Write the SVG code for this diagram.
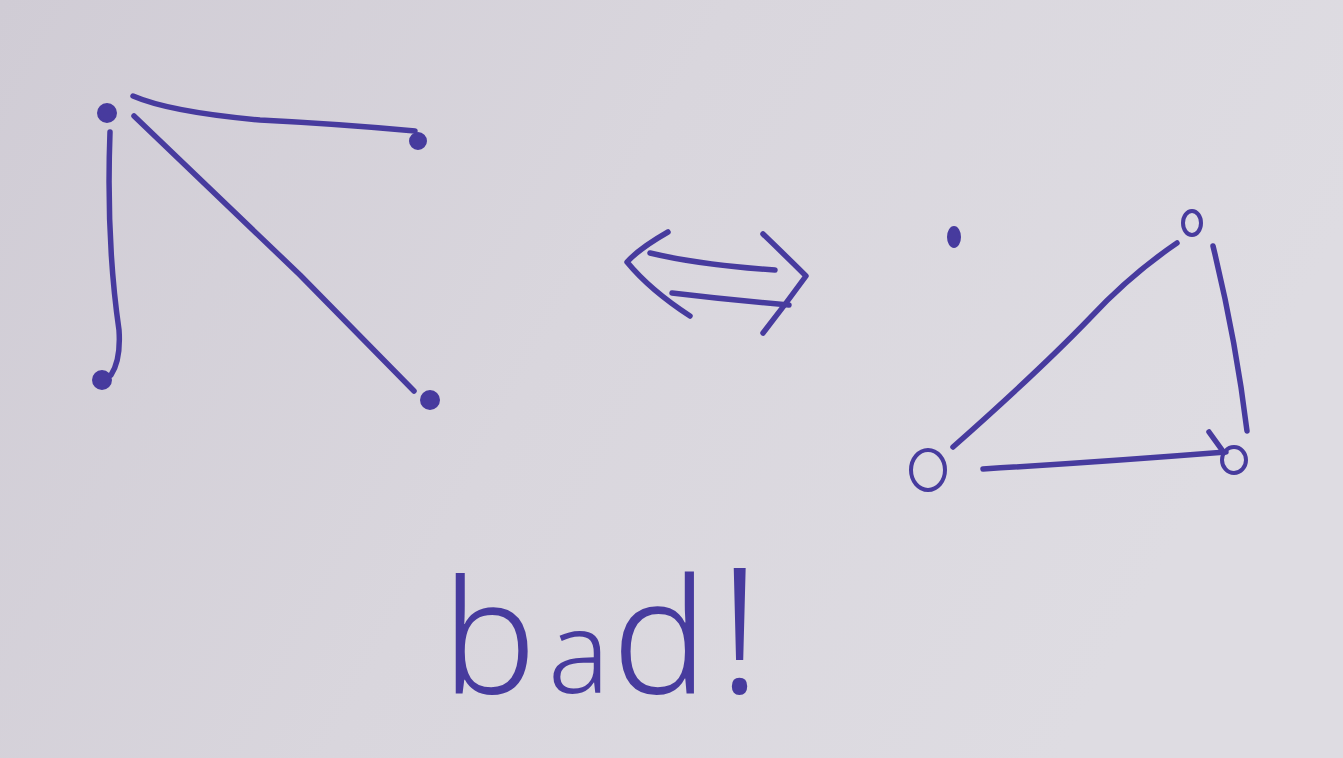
<svg xmlns="http://www.w3.org/2000/svg" width="1343" height="758" viewBox="0 0 1343 758">
  <defs>
    <linearGradient id="paper" x1="0" y1="0" x2="1" y2="0.3">
      <stop offset="0" stop-color="#d0ccd5"/>
      <stop offset="0.5" stop-color="#d9d6dd"/>
      <stop offset="1" stop-color="#dedce2"/>
    </linearGradient>
    <style>
      .ink { fill: none; stroke: #473b9e; stroke-width: 5.5; stroke-linecap: round; stroke-linejoin: round; }
      .dot { fill: #473b9e; stroke: #473b9e; stroke-width: 2; }
      .ring { fill: none; stroke: #473b9e; stroke-width: 4; }
      .word { fill: #473b9e; font-family: "Noto Sans", "DejaVu Sans", sans-serif; font-weight: 300; }
    </style>
  </defs>
  <rect width="1343" height="758" fill="url(#paper)"/>

  <g id="connectors">
    <!-- left graph -->
    <path class="ink" d="M133,96 Q170,112 260,120 Q340,124 415,131"/>
    <path class="ink" d="M134,116 L300,275 L414,391"/>
    <path class="ink" d="M110,132 Q106,240 119,330 Q121,360 111,375"/>
    <!-- right graph -->
    <path class="ink" d="M953,447 Q1040,370 1090,318 Q1130,275 1177,243"/>
    <path class="ink" d="M983,469 Q1100,462 1226,452"/>
    <path class="ink" d="M1213,246 Q1236,340 1247,431"/>
    <path class="ink" d="M1209,432 L1222,450" stroke-width="3"/>
  </g>

  <g id="equivalence-arrow">
    <path class="ink" d="M668,232 Q640,248 627,262 Q650,290 690,316"/>
    <path class="ink" d="M763,234 Q790,260 806,276 Q785,305 763,333"/>
    <path class="ink" d="M650,253 Q700,265 775,270"/>
    <path class="ink" d="M672,293 Q730,300 789,305"/>
  </g>

  <g id="node-a"><circle class="dot" cx="107" cy="113" r="9"/></g>
  <g id="node-b"><circle class="dot" cx="418" cy="141" r="8"/></g>
  <g id="node-c"><circle class="dot" cx="102" cy="380" r="9"/></g>
  <g id="node-d"><circle class="dot" cx="430" cy="400" r="9"/></g>

  <g id="node-e"><ellipse class="dot" cx="954" cy="237" rx="6" ry="10"/></g>
  <g id="node-f"><ellipse class="ring" cx="1192" cy="223" rx="9" ry="12"/></g>
  <g id="node-g"><ellipse class="ring" cx="928" cy="470" rx="17" ry="20"/></g>
  <g id="node-h"><ellipse class="ring" cx="1234" cy="460" rx="12" ry="13"/></g>

  <g id="caption">
    <text class="word" y="693"><tspan x="442" font-size="158">b</tspan><tspan x="548" font-size="115">a</tspan><tspan x="612" font-size="160">d</tspan><tspan x="718" font-size="175">!</tspan></text>
  </g>
</svg>
